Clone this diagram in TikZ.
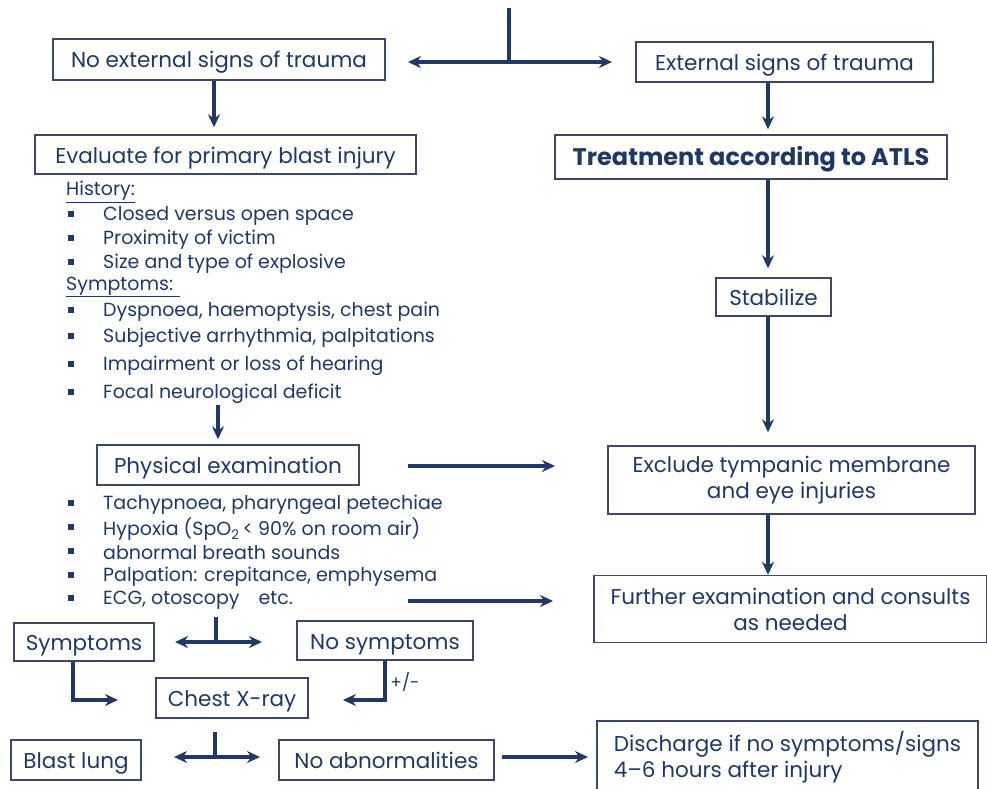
\documentclass[tikz,border=0pt]{standalone}
\usepackage{fontspec}
\setmainfont{Poppins}
\usetikzlibrary{arrows.meta}
\definecolor{navy}{RGB}{31,56,100}
\definecolor{boxline}{RGB}{62,72,102}
\newcommand{\bitem}[3]{\fill[navy] (68,#2-3) rectangle (74,#2+3); \node[item] (#1) at (103,#2+2) {#3};}
\tikzset{
  box/.style={draw=boxline, line width=1.4pt, text=navy, inner sep=0pt,
    font=\fontsize{21.5}{26}\selectfont, align=center},
  one/.style={text height=21pt, text depth=4pt},
  item/.style={anchor=west, text=navy, inner sep=0pt, font=\fontsize{19}{20}\selectfont},
  arr/.style={navy, line width=3.4pt, -{Stealth[length=13pt,width=12pt]}},
  stem/.style={navy, line width=3.4pt},
}

\begin{document}
\begin{tikzpicture}[x=1pt, y=-1pt]
        \useasboundingbox (0,0) rectangle (987,789);
        % boxes, left column
        \node[box, one, minimum width=332pt, minimum height=41pt] (noext) at (219,59.5) {No external signs of trauma};
        \node[box, one, minimum width=381pt, minimum height=39pt] (evalu) at (225.5,154.5) {Evaluate for primary blast injury};
        \node[box, one, minimum width=262pt, minimum height=40pt] (phys) at (228,465) {Physical examination};
        \node[box, one, minimum width=140pt, minimum height=38pt] (sympt) at (84,642) {Symptoms};
        \node[box, one, minimum width=176pt, minimum height=39pt] (nosym) at (385,640.5) {No symptoms};
        \node[box, one, minimum width=152pt, minimum height=40pt] (cxr) at (232,698) {Chest X-ray};
        \node[box, one, minimum width=130pt, minimum height=40pt] (blast) at (76,760) {Blast lung};
        \node[box, one, minimum width=215pt, minimum height=40pt] (noabn) at (386.5,760) {No abnormalities};
        % boxes, right column
        \node[box, one, minimum width=297pt, minimum height=40pt] (ext) at (784.5,62) {External signs of trauma};
        \node[box, one, minimum width=392pt, minimum height=44pt, font=\fontsize{24}{26}\selectfont\bfseries] (atls) at (751,157) {Treatment according to ATLS};
        \node[box, one, minimum width=115pt, minimum height=38pt] (stab) at (773.5,297) {Stabilize};
        \node[box, minimum width=367pt, minimum height=68pt] (excl) at (791.5,480) {Exclude tympanic membrane\\and eye injuries};
        \node[box, minimum width=393pt, minimum height=67pt] (furth) at (790.5,609) {Further examination and consults\\as needed};
        \node[box, minimum width=381pt, minimum height=72pt, align=left] (disch) at (787.5,757) {Discharge if no symptoms/signs\\4--6 hours after injury};
        % history and symptoms
        \node[item] (hist) at (66,192) {\underline{History:}};
        \bitem{h1}{214}{Closed versus open space}
        \bitem{h2}{238}{Proximity of victim}
        \bitem{h3}{262}{Size and type of explosive}
        \node[item] (symh) at (66,287) {\underline{Symptoms: }};
        \bitem{s1}{310}{Dyspnoea, haemoptysis, chest pain}
        \bitem{s2}{336}{Subjective arrhythmia, palpitations}
        \bitem{s3}{364}{Impairment or loss of hearing}
        \bitem{s4}{392}{Focal neurological deficit}
        % findings
        \bitem{e1}{503}{Tachypnoea, pharyngeal petechiae}
        \bitem{e2}{527}{Hypoxia (SpO\textsubscript{2}\,< 90\% on room air)}
        \bitem{e3}{551}{abnormal breath sounds}
        \bitem{e4}{575}{Palpation: crepitance, emphysema}
        \bitem{e5}{598}{ECG, otoscopy\quad etc.}
        \node[text=navy, font=\fontsize{17}{18}\selectfont] (pm) at (405,682) {+/-};
        % arrow ends
        \coordinate (top) at (509,8);
        \coordinate (fk1) at (509,62);
        \coordinate (fk1l) at (408,62);
        \coordinate (fk1r) at (612,62);
        \coordinate (ls) at (218,405);
        \coordinate (pa) at (408,466);
        \coordinate (pb) at (555,466);
        \coordinate (ea) at (408,601);
        \coordinate (eb) at (553,601);
        \coordinate (fk2t) at (216,617);
        \coordinate (fk2) at (216,642);
        \coordinate (fk2l) at (175,642);
        \coordinate (fk2r) at (262,642);
        \coordinate (sx) at (118,700);
        \coordinate (nx) at (343,700);
        \coordinate (fk3t) at (215,732);
        \coordinate (fk3) at (215,757);
        \coordinate (fk3l) at (174,757);
        \coordinate (fk3r) at (260,757);
        \coordinate (da) at (502,757);
        \coordinate (db) at (588,757);
        \coordinate (rc) at (768,0);
        % connectors
        \draw[stem] (top) -- (fk1);
        \draw[arr] (fk1) -- (fk1l);
        \draw[arr] (fk1) -- (fk1r);
        \draw[arr, shorten >=7pt] ([xshift=-5pt]noext.south) -- ([xshift=-5pt]noext.south |- evalu.north);
        \draw[arr, shorten >=5pt] (ext.south -| rc) -- (atls.north -| rc);
        \draw[arr, shorten >=9pt] (atls.south -| rc) -- (stab.north -| rc);
        \draw[arr, shorten >=13pt] (stab.south -| rc) -- (excl.north -| rc);
        \draw[arr] (excl.south -| rc) -- (furth.north -| rc);
        \draw[arr, shorten >=5pt] (ls) -- (ls |- phys.north);
        \draw[arr] (pa) -- (pb);
        \draw[arr] (ea) -- (eb);
        \draw[stem] (fk2t) -- (fk2);
        \draw[arr] (fk2) -- (fk2l);
        \draw[arr] (fk2) -- (fk2r);
        \draw[arr] ([xshift=-11pt]sympt.south) |- (sx);
        \draw[arr] (nosym.south) |- (nx);
        \draw[stem] (fk3t) -- (fk3);
        \draw[arr] (fk3) -- (fk3l);
        \draw[arr] (fk3) -- (fk3r);
        \draw[arr] (da) -- (db);
    \end{tikzpicture}
\end{document}
